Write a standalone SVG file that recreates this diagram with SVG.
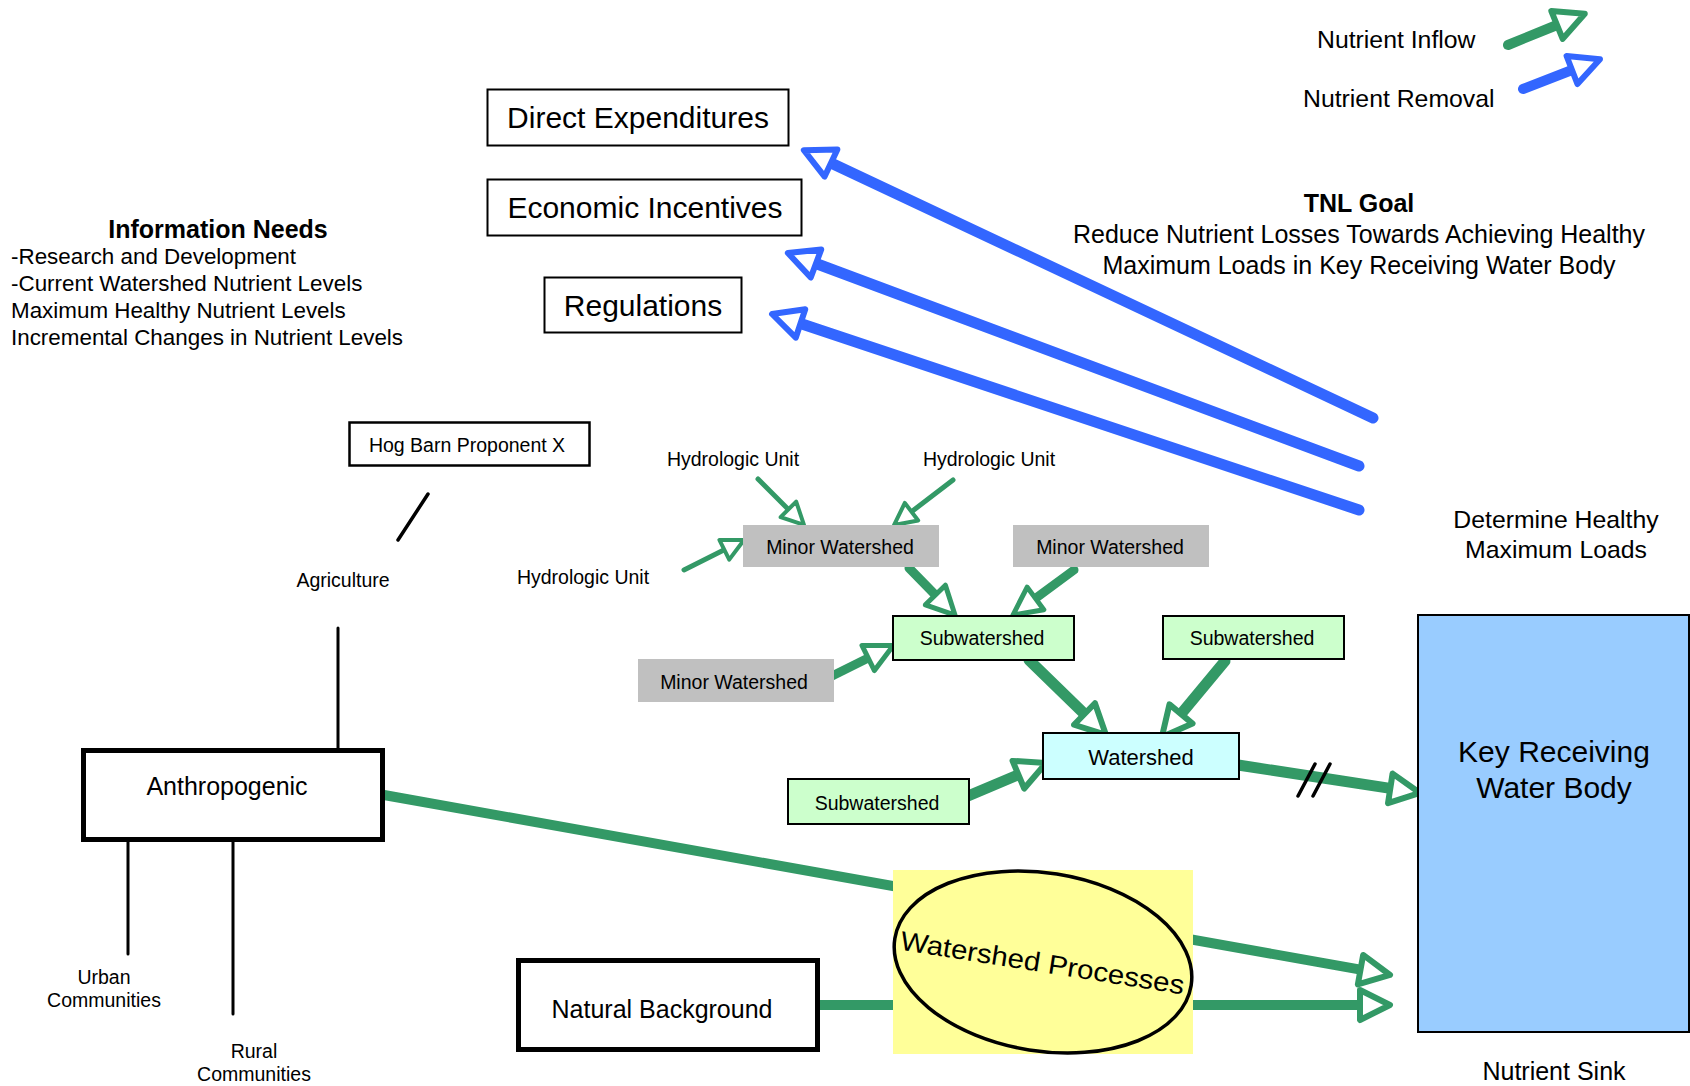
<svg xmlns="http://www.w3.org/2000/svg" width="1690" height="1086" viewBox="0 0 1690 1086">
<style>
text{font-family:"Liberation Sans",Arial,sans-serif;fill:#000}
.c{text-anchor:middle}
.s195{font-size:19.5px}
.s22{font-size:22.4px}
.s245{font-size:24.8px}
.s25{font-size:25px}
.s30{font-size:30px}
.b{font-weight:bold}
.box{fill:#fff;stroke:#000;stroke-width:2}
.thick{fill:#fff;stroke:#000;stroke-width:5}
.minor{fill:#C0C0C0;stroke:none}
.sub{fill:#CCFFCC;stroke:#000;stroke-width:2}
.ws{fill:#CCFFFF;stroke:#000;stroke-width:2}
.key{fill:#99CCFF;stroke:#000;stroke-width:2}
.g{stroke:#339966;fill:none;stroke-linecap:round}
.bl{stroke:#3366FF;fill:none;stroke-linecap:round}
.k{stroke:#000;fill:none;stroke-linecap:round}
</style>
<defs>
<marker id="gs" markerUnits="userSpaceOnUse" markerWidth="60" markerHeight="60" viewBox="-10 -30 60 60" refX="0" refY="0" orient="auto" overflow="visible">
<path d="M0,-11 L22,0 L0,11 Z" fill="#fff" stroke="#339966" stroke-width="4" stroke-linejoin="round"/>
</marker>
<marker id="gm" markerUnits="userSpaceOnUse" markerWidth="60" markerHeight="60" viewBox="-10 -30 60 60" refX="0" refY="0" orient="auto" overflow="visible">
<path d="M0,-14 L28,0 L0,14 Z" fill="#fff" stroke="#339966" stroke-width="5" stroke-linejoin="round"/>
</marker>
<marker id="gl" markerUnits="userSpaceOnUse" markerWidth="60" markerHeight="60" viewBox="-10 -30 60 60" refX="0" refY="0" orient="auto" overflow="visible">
<path d="M0,-15 L30,0 L0,15 Z" fill="#fff" stroke="#339966" stroke-width="6" stroke-linejoin="round"/>
</marker>
<marker id="bh" markerUnits="userSpaceOnUse" markerWidth="60" markerHeight="60" viewBox="-10 -30 60 60" refX="0" refY="0" orient="auto" overflow="visible">
<path d="M0,-15 L30,0 L0,15 Z" fill="#fff" stroke="#3366FF" stroke-width="6" stroke-linejoin="round"/>
</marker>
</defs>
<rect width="1690" height="1086" fill="#fff"/>

<g id="connectors">
<line class="bl" x1="1373" y1="418" x2="831" y2="163" stroke-width="11" marker-end="url(#bh)"/>
<line class="bl" x1="1359" y1="466" x2="816" y2="263.5" stroke-width="11" marker-end="url(#bh)"/>
<line class="bl" x1="1359" y1="510" x2="800.5" y2="323.5" stroke-width="11" marker-end="url(#bh)"/>
<line class="g" x1="758" y1="479" x2="788.4" y2="509.4" stroke-width="5" marker-end="url(#gs)"/>
<line class="g" x1="953" y1="480" x2="911.5" y2="511.7" stroke-width="5" marker-end="url(#gs)"/>
<line class="g" x1="684" y1="570" x2="724.3" y2="549.8" stroke-width="5" marker-end="url(#gs)"/>
<line class="g" x1="909" y1="568" x2="935.4" y2="595" stroke-width="9" marker-end="url(#gm)"/>
<line class="g" x1="1074" y1="570" x2="1035.5" y2="598.4" stroke-width="9" marker-end="url(#gm)"/>
<line class="g" x1="832" y1="676" x2="868.2" y2="658" stroke-width="9" marker-end="url(#gm)"/>
<line class="g" x1="1029" y1="660" x2="1084.5" y2="714" stroke-width="11" marker-end="url(#gl)"/>
<line class="g" x1="1225" y1="661" x2="1181" y2="714" stroke-width="11" marker-end="url(#gl)"/>
<line class="g" x1="968" y1="796" x2="1018.4" y2="774.7" stroke-width="11" marker-end="url(#gl)"/>
<line class="g" x1="1238" y1="765" x2="1390.3" y2="788.4" stroke-width="11" marker-end="url(#gl)"/>
<line class="k" x1="1298" y1="796" x2="1315" y2="764" stroke-width="3.5"/>
<line class="k" x1="1313" y1="796" x2="1330" y2="764" stroke-width="3.5"/>
<line class="g" x1="384" y1="795" x2="1360.5" y2="969.7" stroke-width="10" marker-end="url(#gl)"/>
<line class="g" x1="820" y1="1005" x2="1360" y2="1005" stroke-width="10" marker-end="url(#gl)"/>
<line class="k" x1="428" y1="494" x2="398" y2="540" stroke-width="3.5"/>
<line class="k" x1="338" y1="628" x2="338" y2="750" stroke-width="3"/>
<line class="k" x1="128" y1="833" x2="128" y2="954" stroke-width="3"/>
<line class="k" x1="233" y1="833" x2="233" y2="1014" stroke-width="3"/>
</g>

<g id="legend">
<text class="s245" x="1317" y="48">Nutrient Inflow</text>
<line class="g" x1="1508" y1="45" x2="1557" y2="25" stroke-width="10" marker-end="url(#gl)"/>
<text class="s245" x="1303" y="107">Nutrient Removal</text>
<line class="bl" x1="1523" y1="89" x2="1572" y2="70" stroke-width="10" marker-end="url(#bh)"/>
</g>

<g id="direct-expenditures">
<rect class="box" x="487.5" y="89.5" width="301" height="56"/>
<text class="s30 c" x="638" y="128">Direct Expenditures</text>
</g>
<g id="economic-incentives">
<rect class="box" x="487.5" y="179.5" width="314" height="56"/>
<text class="s30 c" x="645" y="218">Economic Incentives</text>
</g>
<g id="regulations">
<rect class="box" x="544.5" y="277.5" width="197" height="55"/>
<text class="s30 c" x="643" y="316">Regulations</text>
</g>

<g id="tnl-goal">
<text class="s25 b c" x="1359" y="212">TNL Goal</text>
<text class="s25 c" x="1359" y="243">Reduce Nutrient Losses Towards Achieving Healthy</text>
<text class="s25 c" x="1359" y="274">Maximum Loads in Key Receiving Water Body</text>
</g>

<g id="information-needs">
<text class="s25 b c" x="218" y="238">Information Needs</text>
<text class="s22" x="11" y="264">-Research and Development</text>
<text class="s22" x="11" y="291">-Current Watershed Nutrient Levels</text>
<text class="s22" x="11" y="318">Maximum Healthy Nutrient Levels</text>
<text class="s22" x="11" y="345">Incremental Changes in Nutrient Levels</text>
</g>

<g id="determine-loads">
<text class="s245 c" x="1556" y="528">Determine Healthy</text>
<text class="s245 c" x="1556" y="558">Maximum Loads</text>
</g>

<g id="hog-barn">
<rect x="349.5" y="422.5" width="240" height="43" fill="#fff" stroke="#000" stroke-width="2.5"/>
<text class="s195 c" x="467" y="452">Hog Barn Proponent X</text>
</g>
<g id="agriculture">
<text class="s195 c" x="343" y="587">Agriculture</text>
</g>

<g id="anthropogenic">
<rect class="thick" x="83.5" y="750.5" width="299" height="89"/>
<text class="s25 c" x="227" y="795">Anthropogenic</text>
</g>
<g id="urban">
<text class="s195 c" x="104" y="984">Urban</text>
<text class="s195 c" x="104" y="1007">Communities</text>
</g>
<g id="rural">
<text class="s195 c" x="254" y="1058">Rural</text>
<text class="s195 c" x="254" y="1081">Communities</text>
</g>

<g id="natural-background">
<rect class="thick" x="518.5" y="960.5" width="299" height="89"/>
<text class="s25 c" x="662" y="1018">Natural Background</text>
</g>

<g id="watershed-processes">
<rect x="893" y="870" width="300" height="184" fill="#FFFF99"/>
<ellipse cx="1043" cy="962" rx="150" ry="89" transform="rotate(9 1043 962)" fill="#FFFF99" stroke="#000" stroke-width="3.5"/>
<text class="c" font-size="27" transform="translate(1041,972) rotate(9)" textLength="287" lengthAdjust="spacingAndGlyphs">Watershed Processes</text>
</g>

<g id="hydrologic-unit-1"><text class="s195 c" x="733" y="466">Hydrologic Unit</text></g>
<g id="hydrologic-unit-2"><text class="s195 c" x="989" y="466">Hydrologic Unit</text></g>
<g id="hydrologic-unit-3"><text class="s195 c" x="583" y="584">Hydrologic Unit</text></g>

<g id="minor-watershed-1">
<rect class="minor" x="743" y="525" width="196" height="42"/>
<text class="s195 c" x="840" y="554">Minor Watershed</text>
</g>
<g id="minor-watershed-2">
<rect class="minor" x="1013" y="525" width="196" height="42"/>
<text class="s195 c" x="1110" y="554">Minor Watershed</text>
</g>
<g id="minor-watershed-3">
<rect class="minor" x="638" y="659" width="196" height="43"/>
<text class="s195 c" x="734" y="689">Minor Watershed</text>
</g>

<g id="subwatershed-1">
<rect class="sub" x="893" y="616" width="181" height="44"/>
<text class="s195 c" x="982" y="645">Subwatershed</text>
</g>
<g id="subwatershed-2">
<rect class="sub" x="1163" y="616" width="181" height="43"/>
<text class="s195 c" x="1252" y="645">Subwatershed</text>
</g>
<g id="subwatershed-3">
<rect class="sub" x="788" y="779" width="181" height="45"/>
<text class="s195 c" x="877" y="810">Subwatershed</text>
</g>

<g id="watershed">
<rect class="ws" x="1043" y="733" width="196" height="46"/>
<text class="c" font-size="22" x="1141" y="765">Watershed</text>
</g>

<g id="key-receiving-water-body">
<rect class="key" x="1418" y="615" width="271" height="417"/>
<text class="s30 c" x="1554" y="762">Key Receiving</text>
<text class="s30 c" x="1554" y="798">Water Body</text>
<text class="s25 c" x="1554" y="1080">Nutrient Sink</text>
</g>
</svg>
